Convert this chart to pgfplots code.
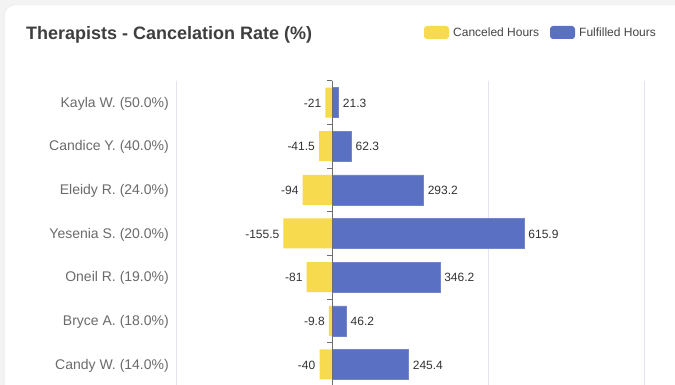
\documentclass[border=0pt]{standalone}
\usepackage{pgfplots}
\pgfplotsset{compat=1.18}
\usepackage{fontspec}
\setmainfont{Liberation Sans}
\definecolor{cyellow}{HTML}{F8DA4E}
\definecolor{cblue}{HTML}{5A70C2}
\definecolor{gridc}{HTML}{E2E4EE}
\definecolor{axisc}{HTML}{6E6E6E}
\definecolor{ylab}{HTML}{6B6B6B}
\definecolor{vlab}{HTML}{333333}
\definecolor{titlec}{HTML}{3F3F3F}
\definecolor{bgc}{HTML}{F3F3F3}
\definecolor{cardb}{HTML}{E4E4E4}
\definecolor{legc}{HTML}{444444}
\begin{document}
\begin{tikzpicture}[x=1pt,y=1pt]
\useasboundingbox (0,0) rectangle (675,385);
\fill[bgc] (0,0) rectangle (675,385);
\filldraw[fill=white, draw=cardb, rounded corners=10pt] (4.5,-20) rectangle (700,380);
\node[anchor=west, font=\fontsize{18}{21}\selectfont\bfseries, text=titlec, inner sep=0] at (26,350) {Therapists - Cancelation Rate (\%)};
\fill[cyellow, rounded corners=3pt] (424,346) rectangle (449,359);
\node[anchor=west, font=\fontsize{12}{14}\selectfont, text=legc, inner sep=0] at (453,352.5) {Canceled Hours};
\fill[cblue, rounded corners=3pt] (550,346) rectangle (575,359);
\node[anchor=west, font=\fontsize{12}{14}\selectfont, text=legc, inner sep=0] at (579,352.5) {Fulfilled Hours};
\begin{axis}[
  at={(176pt,304.3pt)}, anchor=north west,
  scale only axis, width=468pt, height=305.6pt,
  xmin=-500, xmax=1000, ymin=-0.5, ymax=6.5,
  y dir=reverse,
  axis line style={draw=none},
  xtick={-500,0,500,1000}, xticklabels={},
  xmajorgrids, grid style={gridc, line width=0.8pt},
  major tick length=0pt,
  ytick={0,1,2,3,4,5,6},
  yticklabels={Kayla W. (50.0\%),Candice Y. (40.0\%),Eleidy R. (24.0\%),Yesenia S. (20.0\%),Oneil R. (19.0\%),Bryce A. (18.0\%),Candy W. (14.0\%)},
  yticklabel style={font=\fontsize{14}{16}\selectfont, text=ylab, inner sep=0pt, xshift=-7pt, yshift=-1pt},
  xbar, bar shift=0pt, bar width=30pt,
  point meta=explicit symbolic,
  nodes near coords,
  clip=false,
]
\addplot[fill=cyellow, draw=none,
  every node near coord/.style={anchor=east, font=\fontsize{12}{14}\selectfont, text=vlab, inner sep=4pt, yshift=-0.5pt}]
coordinates {(-21,0) [-21] (-41.5,1) [-41.5] (-94,2) [-94] (-155.5,3) [-155.5] (-81,4) [-81] (-9.8,5) [-9.8] (-40,6) [-40]};
\addplot[fill=cblue, draw=cblue!85!white, line width=0.6pt,
  every node near coord/.style={anchor=west, font=\fontsize{12}{14}\selectfont, text=vlab, inner sep=4pt, yshift=-0.5pt}]
coordinates {(21.3,0) [21.3] (62.3,1) [62.3] (293.2,2) [293.2] (615.9,3) [615.9] (346.2,4) [346.2] (46.2,5) [46.2] (245.4,6) [245.4]};
\draw[axisc, line width=0.8pt] (axis cs:0,-0.5) -- (axis cs:0,6.5);
\pgfplotsinvokeforeach{-0.5,0.5,1.5,2.5,3.5,4.5,5.5,6.5}{\draw[axisc, line width=0.8pt] (axis cs:0,#1) -- ++(-5pt,0pt);}
\end{axis}
\end{tikzpicture}
\end{document}
